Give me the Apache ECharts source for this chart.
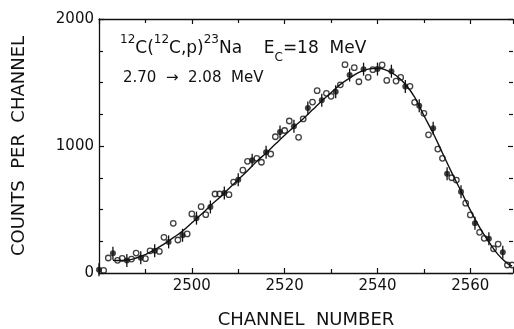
<!DOCTYPE html>
<html>
<head>
<meta charset="utf-8">
<script src="https://cdn.jsdelivr.net/npm/echarts@6/dist/echarts.min.js"></script>
<style>
  html, body {margin: 0; padding: 0; background: #fff;}
  #chart {width: 514px; height: 329px;}
</style>
</head>
<body>
<div id="chart"></div>
<script>
// open circles
const openCh = [2481, 2482, 2484, 2485, 2487, 2488, 2490, 2491, 2493, 2494, 2496, 2497, 2499, 2500, 2502, 2503, 2505, 2506, 2508, 2509,
  2511, 2512, 2514, 2515, 2517, 2518, 2520, 2521, 2523, 2524, 2526, 2527, 2529, 2530, 2532, 2533, 2535, 2536, 2538, 2539,
  2541, 2542, 2544, 2545, 2547, 2548, 2550, 2551, 2553, 2554, 2556, 2557, 2559, 2560, 2562, 2563, 2565, 2566, 2568, 2569];
const openCounts = [20, 118, 100, 115, 110, 157, 113, 175, 170, 281, 391, 260, 308, 465, 522, 459, 622, 622, 617, 716,
  810, 879, 903, 872, 937, 1073, 1122, 1197, 1068, 1213, 1346, 1436, 1415, 1391, 1482, 1640, 1617, 1506, 1541, 1601,
  1638, 1516, 1511, 1540, 1470, 1344, 1257, 1088, 976, 903, 750, 732, 550, 457, 320, 273, 191, 228, 63, 63];

// filled points with error bars
const filledCh = [2480, 2483, 2486, 2489, 2492, 2495, 2498, 2501, 2504, 2507, 2510, 2513, 2516, 2519, 2522,
  2525, 2528, 2531, 2534, 2537, 2540, 2543, 2546, 2549, 2552, 2555, 2558, 2561, 2564, 2567];
const filledCounts = [26, 156, 98, 120, 176, 245, 297, 432, 520, 630, 735, 888, 950, 1110, 1155,
  1300, 1360, 1427, 1559, 1605, 1606, 1589, 1468, 1317, 1140, 782, 640, 391, 270, 163];

// fitted curve
const fitCh = [2483, 2484, 2486, 2488, 2490, 2492, 2494, 2496, 2498, 2500, 2502, 2504, 2506, 2508, 2510, 2512, 2514, 2516,
  2518, 2520, 2522, 2524, 2526, 2528, 2530, 2532, 2534, 2536, 2538, 2540, 2542, 2544, 2546, 2548, 2550, 2552, 2554,
  2556, 2558, 2560, 2562, 2564, 2566, 2568, 2569];
const fitCounts = [100, 98, 102, 118, 145, 183, 228, 278, 330, 395, 460, 530, 595, 665, 735, 805, 880, 945,
  1015, 1085, 1150, 1215, 1285, 1355, 1420, 1485, 1535, 1580, 1605, 1612, 1595, 1555, 1485, 1385, 1240, 1100, 945,
  790, 645, 495, 360, 245, 145, 75, 55];

const xLabels = [2500, 2520, 2540, 2560];
const yLabels = [0, 1000, 2000];

const font = 'DejaVu Sans';
const ink = '#111';

const pairs = (xs, ys) => xs.map((x, i) => [x, ys[i]]);

const axisCommon = {
  type: 'value',
  axisLine: {show: true, onZero: false, lineStyle: {color: ink, width: 1.3}},
  axisTick: {show: true, inside: true, length: 5, lineStyle: {color: ink, width: 1.2}},
  minorTick: {show: true, length: 4, lineStyle: {color: ink, width: 1.2}},
  splitLine: {show: false},
  minorSplitLine: {show: false}
};

const xRange = {min: 2480, max: 2569.2, interval: 20};
const yRange = {min: 0, max: 2000, interval: 1000};

const chart = echarts.init(document.getElementById('chart'));
chart.setOption({
  animation: false,
  backgroundColor: '#fff',
  grid: {left: 99, top: 19, width: 414, height: 254, containLabel: false, outerBoundsMode: 'none'},
  xAxis: [
    {
      ...axisCommon, ...xRange, position: 'bottom',
      minorTick: {...axisCommon.minorTick, splitNumber: 2},
      name: 'CHANNEL  NUMBER', nameLocation: 'middle', nameGap: 38,
      nameTextStyle: {fontFamily: font, fontSize: 18, color: ink},
      axisLabel: {
        fontFamily: font, fontSize: 15, color: ink, margin: 6,
        showMinLabel: false, showMaxLabel: false,
        formatter: v => xLabels.includes(v) ? String(v) : ''
      }
    },
    {
      ...axisCommon, ...xRange, position: 'top',
      minorTick: {...axisCommon.minorTick, splitNumber: 2},
      axisLabel: {show: false}
    }
  ],
  yAxis: [
    {
      ...axisCommon, ...yRange, position: 'left',
      minorTick: {...axisCommon.minorTick, splitNumber: 4},
      name: 'COUNTS  PER  CHANNEL', nameLocation: 'middle', nameGap: 71,
      nameTextStyle: {fontFamily: font, fontSize: 18, color: ink},
      axisLabel: {
        fontFamily: font, fontSize: 15, color: ink, margin: 5,
        formatter: v => yLabels.includes(v) ? String(v) : ''
      }
    },
    {
      ...axisCommon, ...yRange, position: 'right',
      axisLine: {show: false},
      minorTick: {...axisCommon.minorTick, splitNumber: 4},
      axisLabel: {show: false}
    }
  ],
  graphic: [
    {
      type: 'text', left: 120, top: 34,
      style: {
        text: '{s|12}{m|C(}{s|12}{m|C,p)}{s|23}{m|Na    E}{b|C}{m|=18  MeV}',
        rich: {
          m: {fontFamily: font, fontSize: 17, lineHeight: 30, fill: ink},
          s: {fontFamily: font, fontSize: 12, lineHeight: 12, verticalAlign: 'top', fill: ink},
          b: {fontFamily: font, fontSize: 12, lineHeight: 21, verticalAlign: 'bottom', fill: ink}
        }
      }
    },
    {
      type: 'text', left: 123, top: 71,
      style: {text: '2.70  \u2192  2.08  MeV', fontFamily: font, fontSize: 15, fill: ink}
    }
  ],
  series: [
    {
      type: 'line',
      data: pairs(fitCh, fitCounts),
      smooth: true,
      showSymbol: false,
      lineStyle: {color: ink, width: 1.4},
      z: 2
    },
    {
      type: 'custom',
      data: pairs(filledCh, filledCounts),
      clip: false,
      renderItem(params, api) {
        const p = api.coord([api.value(0), api.value(1)]);
        return {
          type: 'line',
          shape: {x1: p[0], y1: p[1] - 6.5, x2: p[0], y2: p[1] + 6.5},
          style: {stroke: ink, lineWidth: 1.3}
        };
      },
      z: 3
    },
    {
      type: 'scatter',
      data: pairs(filledCh, filledCounts),
      symbol: 'circle',
      symbolSize: 6,
      clip: false,
      itemStyle: {color: ink},
      z: 4
    },
    {
      type: 'scatter',
      data: pairs(openCh, openCounts),
      symbol: 'circle',
      symbolSize: 5.5,
      clip: false,
      itemStyle: {color: 'rgba(255,255,255,0)', borderColor: ink, borderWidth: 1.3},
      z: 4
    }
  ]
});
</script>
</body>
</html>
